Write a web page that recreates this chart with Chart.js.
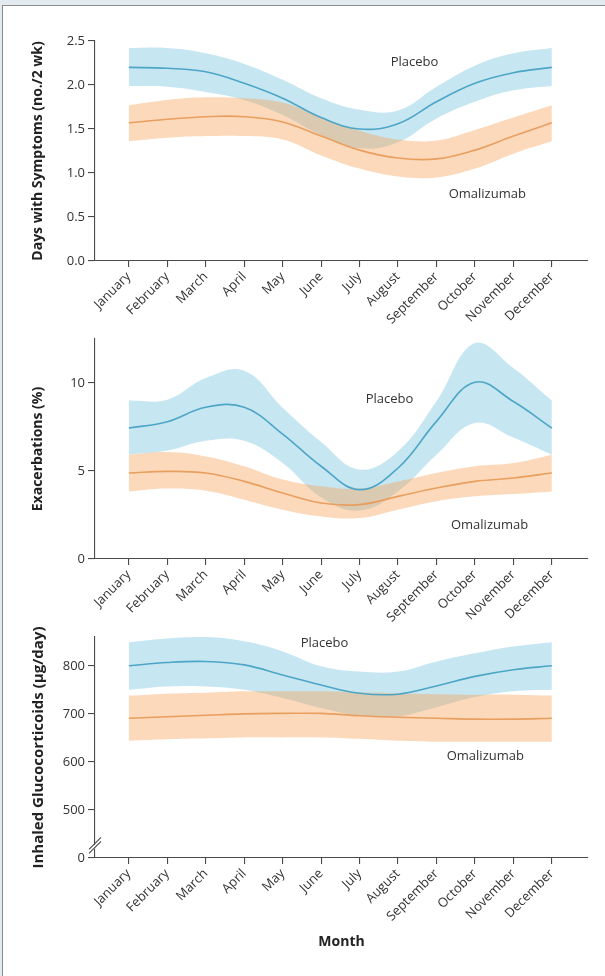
<!DOCTYPE html>
<html>
<head>
<meta charset="utf-8">
<script src="https://cdn.jsdelivr.net/npm/chart.js@4.4.1/dist/chart.umd.min.js"></script>
<style>
html,body{margin:0;padding:0;background:#fff;width:605px;height:976px;overflow:hidden;}
#topstrip{position:absolute;left:0;top:0;width:605px;height:5px;background:#e4ebf0;}
#leftstrip{position:absolute;left:0;top:0;width:2px;height:976px;background:#e4ebf0;}
#frame{position:absolute;left:2px;top:5px;width:603px;height:971px;border-left:1px solid #8c8c8c;border-top:1px solid #8c8c8c;box-sizing:border-box;}
canvas{position:absolute;left:0;top:0;}
</style>
</head>
<body>
<div id="topstrip"></div><div id="leftstrip"></div><div id="frame"></div>
<canvas id="c1" width="605" height="976"></canvas>
<canvas id="c2" width="605" height="976"></canvas>
<canvas id="c3" width="605" height="976"></canvas>
<script>
const months = ['January','February','March','April','May','June','July','August','September','October','November','December'];

// Panel A: Days with symptoms (no./2 wk)
const symPlacebo   = [2.20, 2.19, 2.15, 2.02, 1.85, 1.63, 1.50, 1.56, 1.81, 2.02, 2.14, 2.20];
const symPlaceboHi = [2.42, 2.42, 2.36, 2.24, 2.06, 1.85, 1.72, 1.71, 1.98, 2.22, 2.36, 2.42];
const symPlaceboLo = [1.99, 1.98, 1.92, 1.83, 1.66, 1.43, 1.28, 1.35, 1.62, 1.81, 1.94, 1.99];
const symOmal      = [1.57, 1.61, 1.64, 1.64, 1.58, 1.42, 1.26, 1.17, 1.16, 1.26, 1.42, 1.57];
const symOmalHi    = [1.77, 1.83, 1.86, 1.85, 1.80, 1.63, 1.48, 1.38, 1.37, 1.49, 1.63, 1.77];
const symOmalLo    = [1.36, 1.40, 1.42, 1.42, 1.38, 1.20, 1.05, 0.96, 0.95, 1.05, 1.22, 1.36];

// Panel B: Exacerbations (%)
const exPlacebo   = [7.44, 7.80, 8.62, 8.62, 7.10, 5.27, 3.94, 5.17, 7.82, 10.04, 8.95, 7.44];
const exPlaceboHi = [9.00, 9.05, 10.28, 10.70, 8.60, 6.65, 5.08, 6.12, 8.96, 12.27, 10.85, 9.00];
const exPlaceboLo = [5.93, 6.16, 6.72, 6.72, 5.45, 3.50, 2.75, 3.85, 5.93, 7.73, 6.90, 5.93];
const exOmal      = [4.89, 4.98, 4.89, 4.41, 3.75, 3.18, 3.09, 3.56, 4.03, 4.41, 4.60, 4.89];
const exOmalHi    = [5.93, 6.08, 5.83, 5.27, 4.51, 4.13, 4.00, 4.41, 4.89, 5.27, 5.45, 5.93];
const exOmalLo    = [3.84, 4.00, 3.88, 3.37, 2.80, 2.42, 2.33, 2.80, 3.28, 3.56, 3.69, 3.84];

// Panel C: Inhaled glucocorticoids (µg/day)
const gcPlacebo   = [800, 807, 809, 802, 781, 760, 743, 741, 758, 778, 792, 800];
const gcPlaceboHi = [849, 857, 860, 851, 830, 799, 788, 788, 809, 826, 840, 849];
const gcPlaceboLo = [750, 757, 757, 750, 733, 712, 696, 695, 714, 735, 747, 750];
const gcOmal      = [691, 694, 697, 700, 701, 701, 696, 693, 691, 689, 689, 691];
const gcOmalHi    = [738, 742, 744, 747, 747, 747, 745, 743, 741, 740, 740, 738];
const gcOmalLo    = [644, 647, 649, 651, 651, 651, 648, 644, 642, 642, 642, 642];

const symTicks = [0, 0.5, 1.0, 1.5, 2.0, 2.5];
const exTicks = [0, 5, 10];
const gcTicks = [400, 500, 600, 700, 800];   // 400 is shown as "0" (broken axis)

const labelsA = [{text:'Placebo', x:7.43, y:2.26}, {text:'Omalizumab', x:9.32, y:0.76}];
const labelsB = [{text:'Placebo', x:6.78, y:9.1}, {text:'Omalizumab', x:9.38, y:1.9}];
const labelsC = [{text:'Placebo', x:5.09, y:846}, {text:'Omalizumab', x:9.27, y:611}];

const BLUE_LINE = '#4ea6c6';
const ORANGE_LINE = '#e99f60';
const BLUE_FILL = 'rgba(120,195,225,0.42)';
const ORANGE_FILL = 'rgba(245,165,90,0.42)';
const AXIS = '#4a4a4a';
const TXT = '#333333';
const FONT = "'Open Sans', 'Noto Sans', sans-serif";

const textPlugin = {
  id: 'textLabels',
  afterDatasetsDraw(chart, args, opts) {
    const ctx = chart.ctx, xs = chart.scales.x, ys = chart.scales.y;
    ctx.save();
    ctx.font = '13px ' + FONT;
    ctx.fillStyle = TXT;
    ctx.textAlign = 'center';
    ctx.textBaseline = 'middle';
    (opts.items || []).forEach(it => {
      ctx.fillText(it.text, xs.getPixelForValue(it.x), ys.getPixelForValue(it.y));
    });
    ctx.restore();
  }
};

const breakPlugin = {
  id: 'axisBreak',
  afterDraw(chart, args, opts) {
    if (!opts.value) return;
    const ctx = chart.ctx, ys = chart.scales.y;
    const x0 = chart.chartArea.left;
    const p = ys.getPixelForValue(opts.value);
    ctx.save();
    ctx.fillStyle = '#ffffff';
    ctx.beginPath();
    ctx.moveTo(x0 - 5, p + 3); ctx.lineTo(x0 + 5, p - 7);
    ctx.lineTo(x0 + 5, p - 3); ctx.lineTo(x0 - 5, p + 7);
    ctx.closePath(); ctx.fill();
    ctx.strokeStyle = AXIS; ctx.lineWidth = 1.1;
    ctx.beginPath();
    ctx.moveTo(x0 - 6, p + 3); ctx.lineTo(x0 + 6, p - 9);
    ctx.moveTo(x0 - 6, p + 7); ctx.lineTo(x0 + 6, p - 5);
    ctx.stroke();
    ctx.restore();
  }
};

function pts(arr) { return arr.map((v, i) => ({x: i, y: v})); }

function makePanel(id, d) {
  const H = d.xHeight;
  new Chart(document.getElementById(id), {
    type: 'line',
    data: {
      datasets: [
        {data: pts(d.pHi), fill: '+1', backgroundColor: BLUE_FILL, borderWidth: 0, order: 2},
        {data: pts(d.pLo), fill: false, borderWidth: 0, order: 2},
        {data: pts(d.oHi), fill: '+1', backgroundColor: ORANGE_FILL, borderWidth: 0, order: 1},
        {data: pts(d.oLo), fill: false, borderWidth: 0, order: 1},
        {data: pts(d.p), fill: false, borderColor: BLUE_LINE, borderWidth: 1.6, order: 0},
        {data: pts(d.o), fill: false, borderColor: ORANGE_LINE, borderWidth: 1.6, order: 0}
      ]
    },
    options: {
      responsive: false,
      animation: false,
      devicePixelRatio: 1,
      elements: {point: {radius: 0}, line: {tension: 0.4}},
      layout: {padding: {left: 0, right: 17, top: d.top, bottom: 976 - H - d.bottom}},
      plugins: {
        legend: {display: false}, tooltip: {enabled: false},
        textLabels: {items: d.labels},
        axisBreak: {value: d.breakAt || 0}
      },
      scales: {
        x: {
          type: 'linear', min: -0.88, max: 11.94,
          afterBuildTicks: s => { s.ticks = months.map((m, i) => ({value: i})); },
          afterFit: s => { s.height = H; },
          ticks: {autoSkip: false, maxRotation: 45, minRotation: 45, padding: 2,
                  color: TXT, font: {family: FONT, size: 13},
                  callback: v => months[v]},
          grid: {drawOnChartArea: false, drawTicks: true, tickLength: 6, color: AXIS, lineWidth: 1.1},
          border: {color: AXIS, width: 1.1},
          title: d.xTitle ? {display: true, text: d.xTitle, color: '#222', font: {family: FONT, size: 14, weight: 'bold'}, padding: {top: 0, bottom: 8}} : {display: false}
        },
        y: {
          min: d.ymin, max: d.ymax,
          afterBuildTicks: s => { s.ticks = d.ticks.map(v => ({value: v})); },
          afterFit: s => { s.width = 95; },
          ticks: {color: TXT, font: {family: FONT, size: 13}, padding: 3, callback: d.fmt},
          grid: {drawOnChartArea: false, drawTicks: true, tickLength: 7, color: AXIS, lineWidth: 1.1},
          border: {color: AXIS, width: 1.1},
          title: {display: true, text: d.yTitle, color: '#222', font: {family: FONT, size: d.yTitleSize, weight: 'bold'}, padding: {top: 30, bottom: 0}}
        }
      }
    },
    plugins: [textPlugin, breakPlugin]
  });
}

makePanel('c1', {
  p: symPlacebo, pHi: symPlaceboHi, pLo: symPlaceboLo,
  o: symOmal, oHi: symOmalHi, oLo: symOmalLo,
  ymin: 0, ymax: 2.5, ticks: symTicks, fmt: v => v.toFixed(1),
  top: 41, bottom: 261, xHeight: 70, yTitleSize: 14,
  yTitle: 'Days with Symptoms (no./2 wk)', labels: labelsA
});
makePanel('c2', {
  p: exPlacebo, pHi: exPlaceboHi, pLo: exPlaceboLo,
  o: exOmal, oHi: exOmalHi, oLo: exOmalLo,
  ymin: 0, ymax: 12.5, ticks: exTicks, fmt: v => String(v),
  top: 339, bottom: 559, xHeight: 70, yTitleSize: 14,
  yTitle: 'Exacerbations (%)', labels: labelsB
});
makePanel('c3', {
  p: gcPlacebo, pHi: gcPlaceboHi, pLo: gcPlaceboLo,
  o: gcOmal, oHi: gcOmalHi, oLo: gcOmalLo,
  ymin: 400, ymax: 860, ticks: gcTicks, fmt: v => (v === 400 ? '0' : String(v)),
  top: 637, bottom: 858, xHeight: 100, xTitle: 'Month', breakAt: 424, yTitleSize: 15,
  yTitle: 'Inhaled Glucocorticoids (\u03BCg/day)', labels: labelsC
});
</script>
</body>
</html>
